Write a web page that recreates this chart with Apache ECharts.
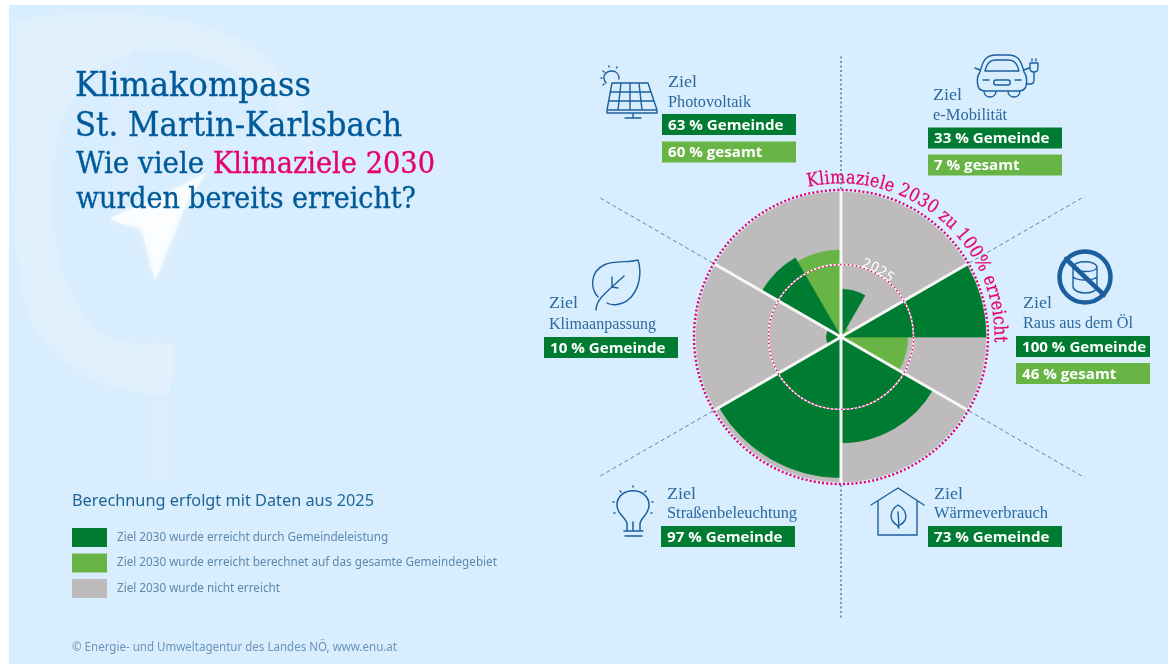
<!DOCTYPE html>
<html><head><meta charset="utf-8">
<style>html,body{margin:0;padding:0;background:#fff}#c{width:1168px;height:664px}</style>
<script src="https://cdn.jsdelivr.net/npm/echarts@6/dist/echarts.min.js"></script>
</head><body><div id="c"></div>
<script>
// ---- data ----
const goals = ['e-Mobilität','Raus aus dem Öl','Wärmeverbrauch','Straßenbeleuchtung','Klimaanpassung','Photovoltaik'];
const gemeinde = [33,100,73,97,10,63];
const gesamt = [7,46,null,null,null,60];
const halfSectors = ['e-Mobilität A','e-Mobilität B','Öl A','Öl B','Wärme A','Wärme B','Straße A','Straße B','Klima A','Klima B','PV A','PV B'];
const nameDark = 'Ziel 2030 wurde erreicht durch Gemeindeleistung';
const nameLight = 'Ziel 2030 wurde erreicht berechnet auf das gesamte Gemeindegebiet';
const nameGrey = 'Ziel 2030 wurde nicht erreicht';
const separators = [0,60,120,180,240,300];
const titleLines = ['Klimakompass','St. Martin-Karlsbach','Wie viele ','Klimaziele 2030','wurden bereits erreicht?'];
const arcTitle = 'Klimaziele 2030 zu 100% erreicht';
const ringYear = '2025';
const legendTitle = 'Berechnung erfolgt mit Daten aus 2025';
const footer = '© Energie- und Umweltagentur des Landes NÖ, www.enu.at';

// ---- colours and layout ----
const C = {bg:'#d8edfd',dark:'#007c32',light:'#68b545',grey:'#bdbbbc',pink:'#e6006e',title:'#005a9a',label:'#2c699f',icon:'#1c5f9f',guide:'#5b86a6'};
const CX = 841, CY = 337, R = 145;
const gems = gemeinde.flatMap((g,i)=> gesamt[i]===null ? [g,g] : [g,0]);
const ges = gesamt.flatMap(g=> g===null ? [0,0] : [0,g]);

const cv = document.createElement('canvas').getContext('2d');
const measure = (s,f)=>{cv.font=f;return cv.measureText(s).width;};
const SLAB='"DejaVu Serif"', SERIF='"Liberation Serif"', SANS='"Noto Sans"';

// small outline shape: absolute M L C Z commands
echarts.graphic.registerShape('outline', echarts.graphic.extendShape({
  type:'outline',
  shape:{d:''},
  buildPath(ctx,shape){
    const t=shape.d.match(/[MLCZ]|-?[\d.]+/g)||[];
    let i=0;const n=()=>parseFloat(t[i++]);
    while(i<t.length){
      const c=t[i++];
      if(c==='M') ctx.moveTo(n(),n());
      else if(c==='L') ctx.lineTo(n(),n());
      else if(c==='C') ctx.bezierCurveTo(n(),n(),n(),n(),n(),n());
      else if(c==='Z') ctx.closePath();
    }
  }
}));

const gfx = [];
function fit(s,x,y,width,size,family,color,bold){
  const font=size+'px '+family;
  const k=width/measure(s,font);
  const style={text:s,font,fill:color,textAlign:'left',textVerticalAlign:'middle'};
  if(bold){style.stroke=color;style.lineWidth=bold;}
  gfx.push({type:'text',x,y,scaleX:k,z:20,silent:true,style});
}
function arcText(s,r,a0,a1,size,family,color,bold){
  const font=size+'px '+family;
  const widths=[...s].map(c=>measure(c,font));
  const total=widths.reduce((p,c)=>p+c,0);
  const arc=(a1-a0)*Math.PI/180*r, k=arc/total;
  let run=0;
  [...s].forEach((c,i)=>{
    const mid=(run+widths[i]*k/2)/r; run+=widths[i]*k;
    const a=a0*Math.PI/180+mid;
    const style={text:c,font,fill:color,textAlign:'center',textVerticalAlign:'bottom'};
    if(bold){style.stroke=color;style.lineWidth=bold;}
    gfx.push({type:'text',x:CX+r*Math.sin(a),y:CY-r*Math.cos(a),rotation:-a,scaleX:k,z:20,silent:true,style});
  });
}
function box(x,y,w,h,fill,text){
  gfx.push({type:'rect',z:15,silent:true,shape:{x,y,width:w,height:h},style:{fill}});
  gfx.push({type:'text',x:x+6,y:y+h/2+1.5,z:20,silent:true,scaleX:1.08,style:{text,font:'700 14px "Open Sans"',fill:'#fff',textAlign:'left',textVerticalAlign:'middle'}});
}
function icon(d,w){gfx.push({type:'outline',z:15,silent:true,shape:{d},style:{fill:'none',stroke:C.icon,lineWidth:w||1.4,lineCap:'round',lineJoin:'round'}});}
function wm(d,op,blur){gfx.push({type:'outline',z:1,silent:true,shape:{d},style:{fill:'rgba(255,255,255,'+op+')',shadowBlur:blur,shadowColor:'rgba(255,255,255,'+op+')'}});}

// page background and watermark
gfx.push({type:'rect',z:0,silent:true,shape:{x:9,y:5,width:1159,height:659},style:{fill:C.bg}});
wm('M12 20 C90 8 190 8 250 45 C290 70 315 110 318 170 C285 95 220 48 150 50 C105 52 65 90 56 150 C48 220 55 290 100 330 C125 350 160 340 175 345 C178 360 172 390 165 395 C110 395 60 370 35 330 C12 285 10 200 12 20 Z',0.2,18);
wm('M110 218 C140 205 175 190 208 172 C192 190 180 215 172 240 C165 255 160 270 155 280 C150 265 147 245 140 228 C130 226 118 224 110 218 Z',0.75,8);
wm('M155 340 L172 345 L168 480 L156 480 Z',0.1,6);
wm('M110 18 L130 18 L135 205 L112 215 Z',0.1,6);

// titles
fit(titleLines[0],75,87,236,33,SLAB,C.title,0.35);
fit(titleLines[1],75,127,327,33,SLAB,C.title,0.35);
fit(titleLines[2],76,165,137,29,SLAB,C.title,0.35);
fit(titleLines[3],213,165,222,29,SLAB,C.pink,0.35);
fit(titleLines[4],76,200,340,29,SLAB,C.title,0.35);
fit(legendTitle,72,501,302,16,SANS,'#1f6496');
fit(footer,72,648,325,12,SANS,'#6b94b8');

// curved labels
arcText(arcTitle,149,-12.5,92,18.5,SLAB,C.pink,0.25);
arcText(ringYear,70,16,42,14,SANS,'#ffffff');

// goal labels and value boxes (positions per goal, same order as goals)
const labelAt = [[933,96,116,74],[1023,304,324,110],[934,495,514,114],[667,495,514,130],[549,304,325,107],[668,83,103,83]];
const boxAt = [[928,127.5,154.5],[1016,336,363],[928,526,null],[661,526,null],[544,337,null],[662,114,141.5]];
goals.forEach((g,i)=>{
  const L=labelAt[i], B=boxAt[i];
  fit('Ziel',L[0],L[1],29,16,SERIF,C.label);
  fit(g,L[0],L[2],L[3],16,SERIF,C.label);
  box(B[0],B[1],134,21,C.dark,gemeinde[i]+' % Gemeinde');
  if(gesamt[i]!==null) box(B[0],B[2],134,21,C.light,gesamt[i]+' % gesamt');
});

// icons
// photovoltaik
icon('M612 83 L648 83 L657 110 L607 110 Z M607 110 L607 113 L657 113 L657 110 M610 92 L651 92 M608.5 101 L654 101 M621 83 L618 110 M630 83 L630 110 M639 83 L642 110 M633 113 L633 118 M625 118 L641 118');
icon('M606 83 C601 76 606 71 612 71 C616 71 619 74 619 79 M603 71 L604 72 M609 66 L609 67 M617 67 L616.5 68 M601 78 L602 78 M603 85 L604 84');
// car
icon('M980 72 C983 60 986 55 996 55 L1008 55 C1018 55 1021 60 1024 72 C1027 76 1027 82 1026 86 C1025 90 1022 91 1018 91 L986 91 C982 91 979 90 978 86 C977 82 977 76 980 72 Z M985 71 C987 63 990 60 996 60 L1008 60 C1014 60 1017 63 1019 71 Z M984 91 C984 99 996 99 996 91 M1008 91 C1008 99 1020 99 1020 91 M975 68 L980 70 M1024 70 L1029 68 M983 80 L989 80 M1015 80 L1021 80 M996 80 L1008 80 C1011 80 1011 85 1008 85 L996 85 C993 85 993 80 996 80 Z M1026 84 L1030 84 C1033 84 1034 82 1034 80 L1034 72 M1030 63 L1038 63 L1038 68 C1038 71 1036 72 1034 72 C1032 72 1030 71 1030 68 Z M1032 59 L1032 61 M1036 59 L1036 61');
// leaf
icon('M598 297 C590 288 590 272 604 265 C614 260 630 263 638 260 C642 272 640 290 628 300 C622 305 612 306 607 303 M596 310 C596 300 605 293 624 276 M612 287 L612 277 M612 287 L618 288');
// bulb
icon('M627 530 L627 524 C627 518 617 515 617 505 C617 486 649 486 649 505 C649 515 640 518 640 524 L640 530 M633 522 L633 531 M624 531 L643 531 M625 536 L642 536 M633 486 L633 487 M620 491 L621 492 M646 491 L645 492 M613 502 L614 502 M653 502 L652 502 M614 513 L615 513 M652 513 L651 513',1.5);
// house
icon('M871 505 L898 488 L924 505 M878 501 L878 535 L917 535 L917 501 M898 505 C890 510 888 520 897 525 L899 528 M898 505 C907 510 909 520 900 525 M898 512 L899 526');
// no oil
icon('M1073 267 C1075 260 1096 260 1097 267 L1097 287 C1096 295 1075 295 1073 287 Z M1073 267 C1075 273 1096 273 1097 267 M1073 277 C1078 281 1092 281 1097 277');
gfx.push({type:'circle',z:15,silent:true,shape:{cx:1085,cy:277,r:25.5},style:{fill:'none',stroke:C.icon,lineWidth:4.5}});
icon('M1066 259 L1104 295',4.5);

const chart = echarts.init(document.getElementById('c'),null,{renderer:'canvas'});
const bar = (name,data,color,z)=>({name,type:'bar',coordinateSystem:'polar',polarIndex:0,data,barCategoryGap:'0%',barGap:'-100%',z,itemStyle:{color,borderColor:color,borderWidth:0.7},silent:true});
chart.setOption({
  animation:false,
  backgroundColor:'#ffffff',
  polar:[{center:[CX,CY],radius:R},{center:[CX,CY],radius:R}],
  angleAxis:[
    {polarIndex:0,type:'category',data:halfSectors,startAngle:90,clockwise:true,boundaryGap:true,show:false},
    {polarIndex:1,type:'value',min:0,max:360,interval:60,startAngle:90,clockwise:true,show:false}
  ],
  radiusAxis:[
    {polarIndex:0,type:'value',min:0,max:100,show:false},
    {polarIndex:1,type:'value',min:0,max:100,show:false}
  ],
  legend:{show:true,orient:'vertical',left:67,top:523,itemWidth:35,itemHeight:19,itemGap:6.5,selectedMode:false,icon:'rect',
    itemStyle:{borderWidth:0},
    data:[nameDark,nameLight,nameGrey],
    textStyle:{color:'#5f88ab',fontFamily:'"Noto Sans"',fontSize:11.7,padding:[0,0,0,5],lineHeight:19}},
  series:[
    {type:'custom',coordinateSystem:'polar',polarIndex:1,z:1,silent:true,data:separators.map(a=>[194,a]),
      renderItem:(p,api)=>{const a=api.coord([102,api.value(1)]),b=api.coord([api.value(0),api.value(1)]);
        const vert=api.value(1)%180===0;
        return {type:'line',shape:{x1:a[0],y1:a[1],x2:b[0],y2:b[1]},style:{stroke:C.guide,lineWidth:vert?1.6:1,lineDash:vert?[2,2.5]:[4,3]}};}},
    bar(nameGrey,halfSectors.map(()=>100),C.grey,2),
    bar(nameLight,ges,C.light,3),
    bar(nameDark,gems,C.dark,4),
    {type:'custom',coordinateSystem:'polar',polarIndex:1,z:6,silent:true,data:separators.map(a=>[101,a]),
      renderItem:(p,api)=>{const a=api.coord([0,api.value(1)]),b=api.coord([api.value(0),api.value(1)]);
        return {type:'line',shape:{x1:a[0],y1:a[1],x2:b[0],y2:b[1]},style:{stroke:'#f7f7f5',lineWidth:3}};}},
    {type:'custom',coordinateSystem:'polar',polarIndex:1,z:7,silent:true,data:[[100]],
      renderItem:(p,api)=>{const cs=p.coordSys;
        return {type:'group',children:[
          {type:'circle',shape:{cx:cs.cx,cy:cs.cy,r:cs.r*api.value(0)/100+2},style:{fill:'none',stroke:C.pink,lineWidth:2.4,lineDash:[2,2.2]}},
          {type:'circle',shape:{cx:cs.cx,cy:cs.cy,r:cs.r/2},style:{fill:'none',stroke:'#ffffff',lineWidth:1.5}},
          {type:'circle',shape:{cx:cs.cx,cy:cs.cy,r:cs.r/2},style:{fill:'none',stroke:C.pink,lineWidth:1.5,lineDash:[1.5,2.5]}}
        ]};}}
  ],
  graphic:{elements:gfx}
});
</script></body></html>
